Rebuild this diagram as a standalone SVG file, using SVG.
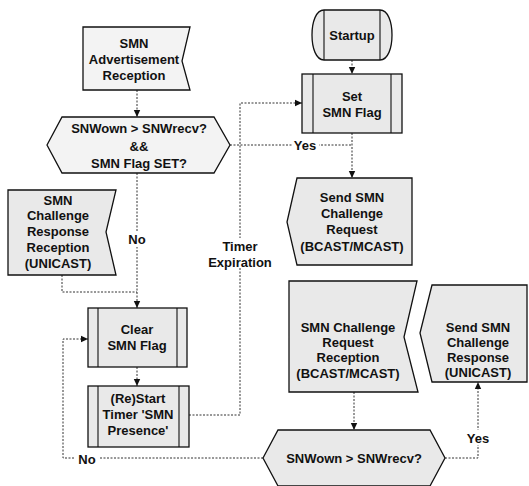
<svg xmlns="http://www.w3.org/2000/svg" width="529" height="486" viewBox="0 0 529 486">
<defs>
<marker id="ah" markerWidth="8" markerHeight="8" refX="7" refY="4" orient="auto" markerUnits="userSpaceOnUse">
<path d="M0,0.8 L7,4 L0,7.2 Z" fill="#111"/>
</marker>
<style>
.sh{stroke:#111;stroke-width:1.3;fill:#e9e9e9}
.lt{fill:#f3f3f3}
.in{stroke:#111;stroke-width:1.1;fill:none}
.cn{stroke:#333;stroke-width:1;fill:none;stroke-dasharray:2 1.5}
.t{font-family:"Liberation Sans",Arial,sans-serif;font-weight:bold;font-size:13px;fill:#111;text-anchor:middle}
.lb{fill:#fff}
</style>
</defs>
<rect width="529" height="486" fill="#fff"/>

<g id="connectors">
<path class="cn" d="M137,90 V117" marker-end="url(#ah)"/>
<path class="cn" d="M137,173 V308" marker-end="url(#ah)"/>
<path class="cn" d="M62,275 V292 H137"/>
<path class="cn" d="M137,367 V386" marker-end="url(#ah)"/>
<path class="cn" d="M189,415 H240 V103 H302" marker-end="url(#ah)"/>
<path class="cn" d="M230,145 H352"/>
<path class="cn" d="M352,133 V178" marker-end="url(#ah)"/>
<path class="cn" d="M352,60 V74" marker-end="url(#ah)"/>
<path class="cn" d="M354,392 V430" marker-end="url(#ah)"/>
<path class="cn" d="M445,458 H478 V382" marker-end="url(#ah)"/>
<path class="cn" d="M263,458 H63 V339 H88" marker-end="url(#ah)"/>
<rect class="lb" x="126" y="231" width="22" height="16"/>
<text class="t" x="137" y="244">No</text>
<rect class="lb" x="212" y="238" width="57" height="30"/>
<text class="t" x="240" y="251">Timer</text>
<text class="t" x="240" y="267">Expiration</text>
<rect class="lb" x="292" y="138" width="27" height="14"/>
<text class="t" x="305" y="150">Yes</text>
<rect class="lb" x="465" y="430" width="27" height="15"/>
<text class="t" x="478" y="443">Yes</text>
<rect class="lb" x="75" y="451" width="24" height="15"/>
<text class="t" x="87" y="464">No</text>
</g>

<g id="adv-reception">
<path class="sh lt" d="M83,27 H190 L182,61 L190,90 H83 Z"/>
<text class="t" x="134" y="48">SMN</text>
<text class="t" x="134" y="64">Advertisement</text>
<text class="t" x="134" y="80">Reception</text>
</g>

<g id="decision-1">
<path class="sh lt" d="M47,145 L62,117 H214 L230,145 L214,173 H62 Z"/>
<text class="t" x="139" y="133">SNWown &gt; SNWrecv?</text>
<text class="t" x="139" y="151">&amp;&amp;</text>
<text class="t" x="139" y="168">SMN Flag SET?</text>
</g>

<g id="challenge-response-reception">
<path class="sh" d="M8,190 H116 L106,232 L116,275 H8 Z"/>
<text class="t" x="58" y="205">SMN</text>
<text class="t" x="58" y="220">Challenge</text>
<text class="t" x="58" y="236">Response</text>
<text class="t" x="58" y="252">Reception</text>
<text class="t" x="58" y="268">(UNICAST)</text>
</g>

<g id="clear-flag">
<rect class="sh" x="88" y="308" width="99" height="59"/>
<path class="in" d="M98,308 V367 M177,308 V367"/>
<text class="t" x="137" y="334">Clear</text>
<text class="t" x="137" y="350">SMN Flag</text>
</g>

<g id="restart-timer">
<rect class="sh" x="88" y="386" width="101" height="61"/>
<path class="in" d="M98,386 V447 M179,386 V447"/>
<text class="t" x="138" y="403">(Re)Start</text>
<text class="t" x="138" y="419">Timer 'SMN</text>
<text class="t" x="138" y="435">Presence'</text>
</g>

<g id="startup">
<path class="sh" d="M324,10 H380 C388,10 392,22 392,35 C392,48 388,60 380,60 H324 C316,60 312,48 312,35 C312,22 316,10 324,10 Z"/>
<path class="in" d="M324,10 V60 M380,10 V60"/>
<text class="t" x="352" y="40">Startup</text>
</g>

<g id="set-flag">
<rect class="sh" x="302" y="74" width="100" height="59"/>
<path class="in" d="M313,74 V133 M391,74 V133"/>
<text class="t" x="352" y="101">Set</text>
<text class="t" x="352" y="117">SMN Flag</text>
</g>

<g id="send-request">
<path class="sh" d="M297,178 H412 V265 H297 L287,222 Z"/>
<text class="t" x="352" y="202">Send SMN</text>
<text class="t" x="352" y="218">Challenge</text>
<text class="t" x="352" y="234">Request</text>
<text class="t" x="352" y="251">(BCAST/MCAST)</text>
</g>

<g id="request-reception">
<path class="sh" d="M289,281 H417 L404,337 L418,392 H289 Z"/>
<text class="t" x="348" y="332">SMN Challenge</text>
<text class="t" x="348" y="347">Request</text>
<text class="t" x="348" y="362">Reception</text>
<text class="t" x="348" y="378">(BCAST/MCAST)</text>
</g>

<g id="send-response">
<path class="sh" d="M432,285 H527 V382 H432 L420,333 Z"/>
<text class="t" x="478" y="332">Send SMN</text>
<text class="t" x="478" y="347">Challenge</text>
<text class="t" x="478" y="362">Response</text>
<text class="t" x="478" y="377">(UNICAST)</text>
</g>

<g id="decision-2">
<path class="sh" d="M263,458 L278,430 H430 L445,458 L430,486 H278 Z"/>
<text class="t" x="354" y="463">SNWown &gt; SNWrecv?</text>
</g>
</svg>
